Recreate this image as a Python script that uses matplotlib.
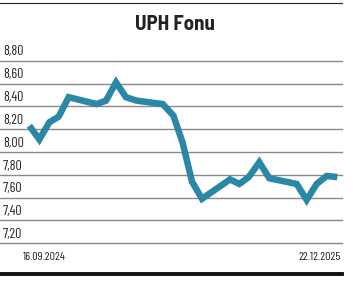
import matplotlib
matplotlib.use("Agg")
import matplotlib.pyplot as plt
import pandas as pd

plt.rcParams['font.family'] = ['Barlow Condensed', 'DejaVu Sans']

# fund price, roughly every two weeks
dates = ["2024-09-16", "2024-10-01", "2024-10-16", "2024-10-30", "2024-11-14",
         "2024-12-26", "2025-01-09", "2025-01-24", "2025-02-08", "2025-02-24",
         "2025-04-04", "2025-04-20", "2025-05-04", "2025-05-18", "2025-06-02",
         "2025-07-14", "2025-07-28", "2025-08-11", "2025-08-27", "2025-09-11",
         "2025-10-22", "2025-11-06", "2025-11-21", "2025-12-06", "2025-12-22"]
prices = [8.23, 8.11, 8.26, 8.31, 8.48,
          8.42, 8.45, 8.61, 8.48, 8.45,
          8.42, 8.32, 8.08, 7.74, 7.59,
          7.76, 7.72, 7.78, 7.91, 7.77,
          7.72, 7.58, 7.72, 7.79, 7.78]
yticks = [7.20, 7.40, 7.60, 7.80, 8.00, 8.20, 8.40, 8.60, 8.80]
ytick_labels = ["7,20", "7,40", "7,60", "7,80", "8,00", "8,20", "8,40", "8,60", "8,80"]
first_label = "16.09.2024"
last_label = "22.12.2025"

x = pd.to_datetime(dates)
days = (x - x[0]).days

W, H = 353, 281
fig = plt.figure(figsize=(W / 100, H / 100), dpi=100)
# axes box in pixels: left 0, right 342, top 60.7 (8.80), bottom 243.3 (7.20)
ax = fig.add_axes([0 / W, 1 - 243.3 / H, 342 / W, (243.3 - 60.7) / H])

for lab, v in zip(ytick_labels, yticks):
    ax.axhline(v, color="#8a8a8a", lw=1.0, zorder=1, clip_on=False)
    ax.annotate(lab, xy=(0, v), xycoords=("axes fraction", "data"),
                xytext=(2.2, 1.6), textcoords="offset points", fontsize=10,
                color="#222222", va="bottom", ha="left", annotation_clip=False)

ax.plot(days, prices, color="#2a88a6", lw=4.7, solid_joinstyle="miter",
        solid_capstyle="butt", zorder=3)

ax.set_xlim(-44, 469)
ax.set_ylim(7.20, 8.80)
ax.axis("off")

# date labels
fig.text(44.5 / W, 1 - 257 / H, first_label, fontsize=8.7, ha="center", va="center", color="#222222")
fig.text(320 / W, 1 - 257 / H, last_label, fontsize=8.7, ha="center", va="center", color="#222222")

# title
fig.text(175 / W, 1 - 25 / H, "UPH Fonu", fontsize=15, fontweight="bold",
         family=["Barlow Semi Condensed", "DejaVu Sans"],
         ha="center", va="center", color="#222222")

# top and bottom rules
fig.add_artist(plt.Line2D([0, 342 / W], [1 - 2.7 / H, 1 - 2.7 / H], color="#222222", lw=0.8))
fig.add_artist(plt.Line2D([0, 342 / W], [1 - 273.5 / H, 1 - 273.5 / H], color="#111111", lw=2.8))

fig.savefig("out.png", dpi=100)
